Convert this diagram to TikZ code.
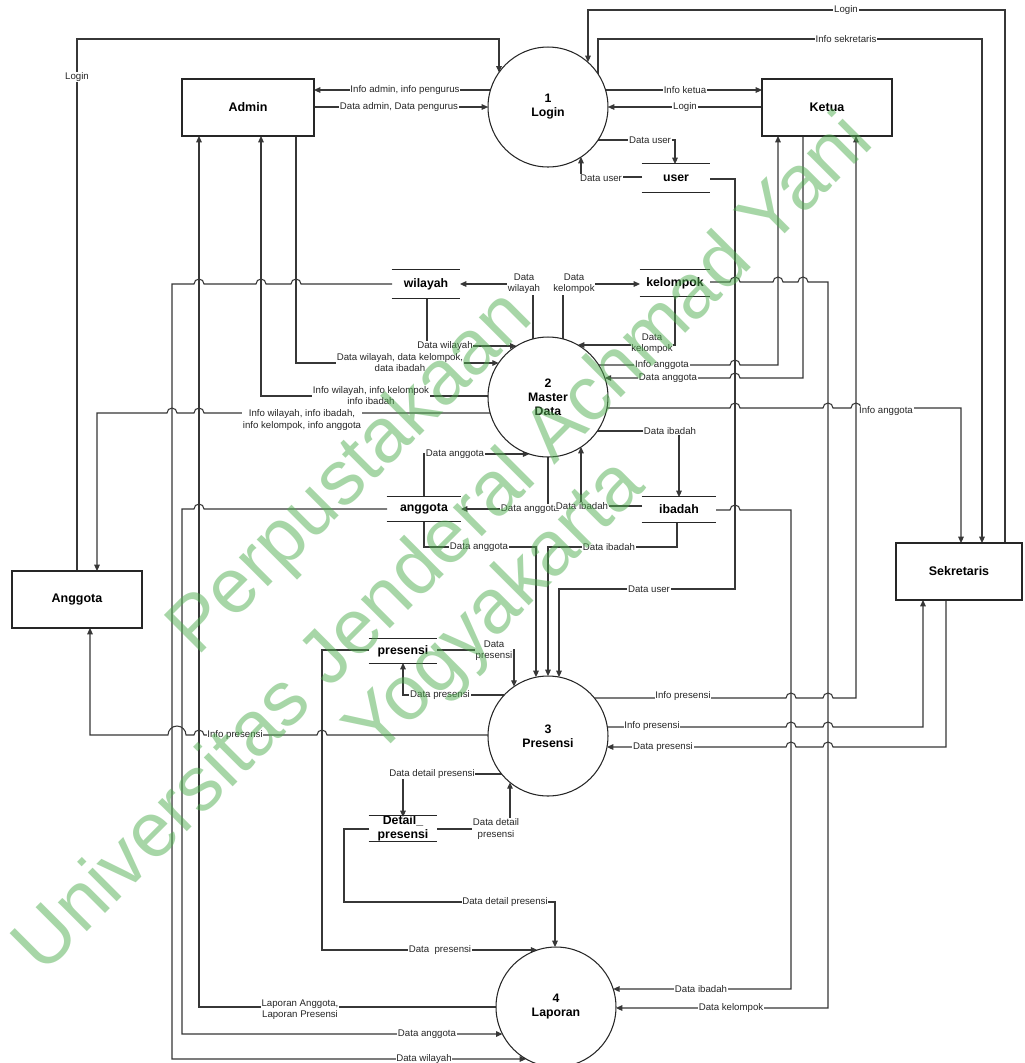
\documentclass[tikz,border=0pt]{standalone}
\usepackage{fontspec}
\setmainfont{Liberation Sans}
\usetikzlibrary{arrows.meta}
\definecolor{ln}{RGB}{55,55,55}
\definecolor{wmg}{RGB}{80,175,80}
\newcommand\jr[2]{-- ({#1-5},{#2}) arc[start angle=180,end angle=0,radius=0.1cm]}
\newcommand\jl[2]{-- ({#1+5},{#2}) arc[start angle=0,end angle=180,radius=0.1cm]}
\tikzset{
  fl/.style={draw=ln, line width=0.6pt, -{Triangle[length=3.6pt,width=3.2pt]}},
  lbl/.style={font=\fontsize{5.5}{6.3}\selectfont, fill=white, inner sep=0.4pt, align=center, text=black!85},
  ent/.style={draw=black!85, line width=0.8pt, fill=white, inner sep=0pt, minimum width=2.64cm, minimum height=1.14cm, font=\fontsize{7.1}{8}\selectfont\bfseries},
  proc/.style={circle, draw=black!85, line width=0.6pt, fill=white, inner sep=0pt, minimum size=2.4cm, align=center, font=\fontsize{7}{8}\selectfont\bfseries},
  st/.style={inner sep=0pt, font=\fontsize{7}{8}\selectfont\bfseries, align=center},
  wm/.style={font=\fontsize{44}{48}\selectfont, text=wmg, text opacity=0.5, rotate=45, inner sep=0pt},
}
\begin{document}
\begin{tikzpicture}[x=0.02cm, y=-0.02cm]
\fill[white] (0,0) rectangle (1025,1063);
\useasboundingbox (0,0) rectangle (1025,1063);

% connectors
\draw[fl] (77,571) -- (77,39) -- (499,39) -- (499,72.4);
\draw[fl] (490.5,90) -- (314,90);
\draw[fl] (314,107) -- (488,107);
\draw[fl] (605.5,90) -- (762,90);
\draw[fl] (762,107) -- (608,107);
\draw[fl] (1005,543) -- (1005,10) -- (588,10) -- (588,62);
\draw[fl] (598,74) -- (598,39) -- (982,39) -- (982,543);
\draw[fl] (598,140) -- (675,140) -- (675,164);
\draw[fl] (642,177) -- (581,177) -- (581,157);
\draw[fl] (710,179) -- (735,179) -- (735,589) -- (559,589) -- (559,677);
\draw[fl] (427,298) -- (427,346) -- (516.4,346);
\draw[fl] (533,339) -- (533,284) -- (460,284);
\draw[fl] (563,339) -- (563,284) -- (640,284);
\draw[fl] (675,296) -- (675,345) -- (578,345);
\draw[fl] (392,284) \jl{296}{284} \jl{261}{284} \jl{199}{284} -- (172,284) -- (172,1059) -- (526,1059);
\draw[fl] (296,136) -- (296,363) -- (498.6,363);
\draw[fl] (488,396) -- (261,396) -- (261,136);
\draw[fl] (490.2,413) \jl{199}{413} \jl{172}{413} -- (97,413) -- (97,571);
\draw[fl] (598.8,365) \jr{735}{365} -- (778,365) -- (778,136);
\draw[fl] (803,136) -- (803,378) \jl{735}{378} -- (604.9,378);
\draw[fl] (607,408) \jr{735}{408} \jr{828}{408} \jr{856}{408} -- (961,408) -- (961,543);
\draw[fl] (710,282) \jr{735}{282} \jr{778}{282} \jr{803}{282} -- (828,282) -- (828,1008) -- (616,1008);
\draw[fl] (716,510) \jr{735}{510} -- (791,510) -- (791,989) -- (613.2,989);
\draw[fl] (597.4,431) -- (679,431) -- (679,497);
\draw[fl] (642,506) -- (581,506) -- (581,447);
\draw[fl] (548,457) -- (548,509) -- (461,509);
\draw[fl] (424,497) -- (424,454) -- (529.3,454);
\draw[fl] (387,509) \jl{199}{509} -- (182,509) -- (182,1034) -- (502.4,1034);
\draw[fl] (424,521) -- (424,547) -- (536,547) -- (536,677);
\draw[fl] (677,522) -- (677,547) -- (548,547) -- (548,676);
\draw[fl] (437,650) -- (514,650) -- (514,686.6);
\draw[fl] (504.2,695) -- (403,695) -- (403,663);
\draw[fl] (369,650) -- (322,650) -- (322,950) -- (537.3,950);
\draw[fl] (594.4,698) \jr{791}{698} \jr{828}{698} -- (856,698) -- (856,136);
\draw[fl] (607.3,727) \jr{791}{727} \jr{828}{727} -- (923,727) -- (923,600);
\draw[fl] (946,600) -- (946,747) \jl{828}{747} \jl{791}{747} -- (607,747);
\draw[fl] (488,735) \jl{322}{735} \jl{199}{735} -- (186,735) arc[start angle=0,end angle=180,radius=0.18cm] -- (90,735) -- (90,628);
\draw[fl] (501.6,774) -- (403,774) -- (403,817);
\draw[fl] (437,829) -- (510,829) -- (510,782.4);
\draw[fl] (369,829) -- (344,829) -- (344,902) -- (555,902) -- (555,947);
\draw[fl] (496,1007) -- (199,1007) -- (199,136);

% external entities
\node[ent] (admin) at (248,107.5) {Admin};
\node[ent, minimum width=2.6cm] (ketua) at (827,107.5) {Ketua};
\node[ent, minimum width=2.52cm] (sekr) at (959,571.5) {Sekretaris};
\node[ent, minimum width=2.6cm] (anggota) at (77,599.5) {Anggota};

% processes
\node[proc] (login) at (548,107) {1\\Login};
\node[proc] (md) at (548,397) {2\\Master\\Data};
\node[proc] (pres) at (548,736) {3\\Presensi};
\node[proc] (lap) at (556,1007) {4\\Laporan};

% data stores
\node[st, minimum width=1.36cm, minimum height=0.56cm] (suser) at (676,178) {user};
\node[st, minimum width=1.36cm, minimum height=0.56cm] (swil) at (426,284) {wilayah};
\node[st, minimum width=1.4cm, minimum height=0.52cm] (skel) at (675,283) {kelompok};
\node[st, minimum width=1.48cm, minimum height=0.48cm] (sang) at (424,509) {anggota};
\node[st, minimum width=1.48cm, minimum height=0.5cm] (sibd) at (679,509.5) {ibadah};
\node[st, minimum width=1.36cm, minimum height=0.48cm] (spres) at (403,651) {presensi};
\node[st, minimum width=1.36cm, minimum height=0.46cm] (sdet) at (403,828.5) {Detail\_\\presensi};
\foreach \s in {suser,swil,skel,sang,sibd,spres,sdet}
  \draw[black!85, line width=0.8pt] (\s.north west) -- (\s.north east) (\s.south west) -- (\s.south east);

% labels
\node[lbl] (t1) at (77,77) {Login};
\node[lbl] (t2) at (405,90) {Info admin, info pengurus};
\node[lbl] (t3) at (399,107) {Data admin, Data pengurus};
\node[lbl] (t4) at (685,90) {Info ketua};
\node[lbl] (t5) at (685,107) {Login};
\node[lbl] (t6) at (846,10) {Login};
\node[lbl] (t7) at (846,39) {Info sekretaris};
\node[lbl] (t8) at (650,140) {Data user};
\node[lbl] (t9) at (601,178) {Data user};
\node[lbl] (t10) at (649,589) {Data user};
\node[lbl] (t11) at (445,346) {Data wilayah};
\node[lbl] (t12) at (524,284) {Data\\wilayah};
\node[lbl] (t13) at (574,284) {Data\\kelompok};
\node[lbl] (t14) at (652,344) {Data\\kelompok};
\node[lbl] (t15) at (424,1059) {Data wilayah};
\node[lbl] (t16) at (400,363) {Data wilayah, data kelompok,\\data ibadah};
\node[lbl] (t17) at (371,396) {Info wilayah, info kelompok\\info ibadah};
\node[lbl] (t18) at (302,420) {Info wilayah, info ibadah,\\info kelompok, info anggota};
\node[lbl] (t19) at (662,365) {Info anggota};
\node[lbl] (t20) at (668,378) {Data anggota};
\node[lbl] (t21) at (886,411) {Info anggota};
\node[lbl] (t22) at (731,1008) {Data kelompok};
\node[lbl] (t23) at (701,989) {Data ibadah};
\node[lbl] (t24) at (670,431) {Data ibadah};
\node[lbl] (t26) at (530,509) {Data anggota};
\node[lbl] (t25) at (582,506) {Data ibadah};
\node[lbl] (t27) at (455,454) {Data anggota};
\node[lbl] (t28) at (427,1034) {Data anggota};
\node[lbl] (t29) at (479,547) {Data anggota};
\node[lbl] (t30) at (609,547) {Data ibadah};
\node[lbl] (t31) at (494,651) {Data\\presensi};
\node[lbl] (t32) at (440,695) {Data presensi};
\node[lbl] (t33) at (440,950) {Data\ \ presensi};
\node[lbl] (t34) at (683,696) {Info presensi};
\node[lbl] (t35) at (652,726) {Info presensi};
\node[lbl] (t36) at (663,747) {Data presensi};
\node[lbl] (t37) at (235,735) {Info presensi};
\node[lbl] (t38) at (432,774) {Data detail presensi};
\node[lbl] (t39) at (496,829) {Data detail\\presensi};
\node[lbl] (t40) at (505,902) {Data detail presensi};
\node[lbl] (t41) at (300,1010) {Laporan Anggota,\\Laporan Presensi};

% watermark
\node[wm] (wm1) at (352,475) {Perpustakaan};
\node[wm] (wm2) at (440,540) {Universitas Jenderal Achmad Yani};
\node[wm] (wm3) at (497,610) {Yogyakarta};
\end{tikzpicture}
\end{document}
